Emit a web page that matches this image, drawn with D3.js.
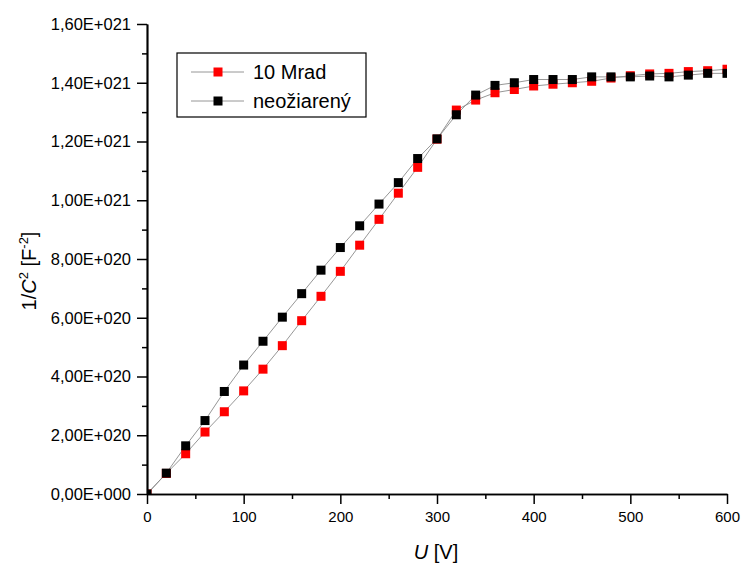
<!DOCTYPE html>
<html>
<head>
<meta charset="utf-8">
<script src="https://cdn.jsdelivr.net/npm/d3@7"></script>
<style>
  body { margin: 0; background: #fff; }
  svg { display: block; font-family: "Liberation Sans", Arial, sans-serif; }
</style>
</head>
<body>
<div class="chart"></div>
<script>
// values of 1/C^2 given in units of 1E+020 F^-2
const unit = 1e20;
const voltage = [0, 20, 40, 60, 80, 100, 120, 140, 160, 180, 200, 220, 240, 260, 280, 300,
    320, 340, 360, 380, 400, 420, 440, 460, 480, 500, 520, 540, 560, 580, 600];
const mrad10 = [0, 0.70, 1.37, 2.11, 2.80, 3.51, 4.25, 5.05, 5.90, 6.73, 7.58, 8.47, 9.35, 10.24, 11.12, 12.08,
    13.07, 13.41, 13.66, 13.77, 13.89, 13.95, 14.00, 14.05, 14.16, 14.24, 14.30, 14.32, 14.38, 14.41, 14.46];
const neoziareny = [0, 0.71, 1.64, 2.50, 3.49, 4.39, 5.20, 6.02, 6.82, 7.62, 8.39, 9.13, 9.87, 10.60, 11.42, 12.09,
    12.91, 13.58, 13.91, 14.00, 14.11, 14.11, 14.11, 14.20, 14.20, 14.20, 14.23, 14.20, 14.26, 14.32, 14.32];
const seriesNames = ['10 Mrad', 'neožiarený'];
const seriesColors = ['#ff0000', '#000000'];
const xMajor = [0, 100, 200, 300, 400, 500, 600];
const xMinor = [50, 150, 250, 350, 450, 550];
const yMajor = [0, 2, 4, 6, 8, 10, 12, 14, 16];
const yMinor = [1, 3, 5, 7, 9, 11, 13, 15];

let margin = { top: 24, right: 15, bottom: 74, left: 147 },
    width = 742 - margin.left - margin.right,
    height = 568 - margin.top - margin.bottom;

let svg = d3.select('.chart').append('svg')
    .attr('width', 742)
    .attr('height', 568);
let g = svg.append('g')
    .attr('transform', `translate(${margin.left},${margin.top})`);

let x = d3.scaleLinear().domain([0, 600]).range([0, width]);
let y = d3.scaleLinear().domain([0, 16]).range([height, 0]);

// 1,60E+021 style labels
const sciFormat = (v) => {
    let val = v * unit;
    if (val === 0) return '0,00E+000';
    let exp = Math.floor(Math.log10(val) + 1e-9);
    let mant = val / Math.pow(10, exp);
    return mant.toFixed(2).replace('.', ',') + 'E+' + String(exp).padStart(3, '0');
};

g.append('clipPath').attr('id', 'plot-clip')
    .append('rect').attr('width', width).attr('height', height);

let series = [mrad10, neoziareny].map((vals, i) => ({
    name: seriesNames[i],
    color: seriesColors[i],
    points: voltage.map((u, j) => ({ u: u, v: vals[j] }))
}));

let line = d3.line().x(d => x(d.u)).y(d => y(d.v));
let plot = g.append('g').attr('clip-path', 'url(#plot-clip)');
series.forEach(s => {
    plot.append('path')
        .datum(s.points)
        .attr('fill', 'none')
        .attr('stroke', '#8a8a8a')
        .attr('stroke-width', 0.9)
        .attr('d', line);
});
const ms = 9;
series.forEach(s => {
    plot.append('g').selectAll('rect')
        .data(s.points)
        .join('rect')
        .attr('x', d => x(d.u) - ms / 2)
        .attr('y', d => y(d.v) - ms / 2)
        .attr('width', ms)
        .attr('height', ms)
        .attr('fill', s.color);
});

// axes
let xAxisMinor = g.append('g').attr('transform', `translate(0,${height})`)
    .call(d3.axisBottom(x).tickValues(xMinor).tickSize(5).tickSizeOuter(0).tickFormat(''));
let xAxis = g.append('g').attr('transform', `translate(0,${height})`)
    .call(d3.axisBottom(x).tickValues(xMajor).tickSize(10).tickSizeOuter(0).tickPadding(7));
let yAxisMinor = g.append('g')
    .call(d3.axisLeft(y).tickValues(yMinor).tickSize(5).tickSizeOuter(0).tickFormat(''));
let yAxis = g.append('g')
    .call(d3.axisLeft(y).tickValues(yMajor).tickSize(10).tickSizeOuter(0).tickPadding(6).tickFormat(sciFormat));

[xAxisMinor, xAxis, yAxisMinor, yAxis].forEach(a => {
    a.selectAll('.domain').attr('stroke', '#000').attr('stroke-width', 1.7);
    a.selectAll('.tick line').attr('stroke', '#000').attr('stroke-width', 1.5);
    a.selectAll('text').attr('font-size', 15).attr('fill', '#000')
        .attr('font-family', '"Liberation Sans", Arial, sans-serif');
});
yAxis.selectAll('text').attr('font-size', 16.5);

// axis titles
let xTitle = svg.append('text')
    .attr('x', 436).attr('y', 559)
    .attr('text-anchor', 'middle')
    .attr('font-size', 20);
xTitle.append('tspan').attr('font-style', 'italic').text('U');
xTitle.append('tspan').text(' [V]');

let yTitle = svg.append('text')
    .attr('transform', 'translate(36,271) rotate(-90)')
    .attr('text-anchor', 'middle')
    .attr('font-size', 20);
yTitle.append('tspan').text('1/');
yTitle.append('tspan').attr('font-style', 'italic').text('C');
yTitle.append('tspan').attr('font-size', 13).attr('dy', -8).text('2');
yTitle.append('tspan').attr('dy', 8).text(' [F');
yTitle.append('tspan').attr('font-size', 13).attr('dy', -8).text('-2');
yTitle.append('tspan').attr('dy', 8).text(']');

// legend
let legend = svg.append('g').attr('transform', 'translate(177,53)');
legend.append('rect')
    .attr('width', 189).attr('height', 64)
    .attr('fill', '#fff').attr('stroke', '#000').attr('stroke-width', 1.2);
series.forEach((s, i) => {
    let row = legend.append('g').attr('transform', `translate(0,${19 + i * 29})`);
    row.append('line')
        .attr('x1', 14).attr('x2', 67)
        .attr('stroke', '#8a8a8a').attr('stroke-width', 0.9);
    row.append('rect')
        .attr('x', 41 - ms / 2).attr('y', -ms / 2)
        .attr('width', ms).attr('height', ms)
        .attr('fill', s.color);
    row.append('text')
        .attr('x', 76).attr('y', 7)
        .attr('font-size', 20)
        .text(s.name);
});
</script>
</body>
</html>
